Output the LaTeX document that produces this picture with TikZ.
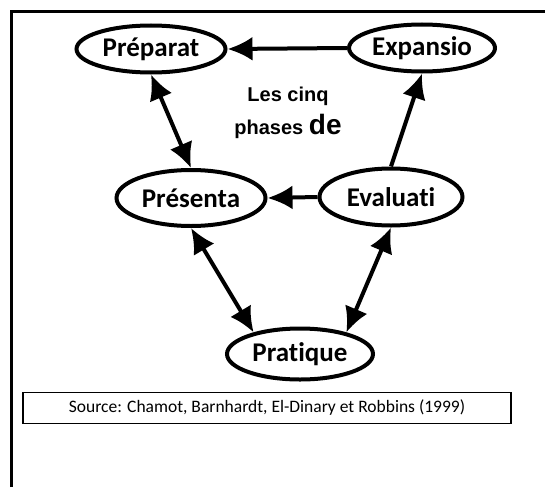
\documentclass[tikz,border=0pt]{standalone}
\usepackage{fontspec}
\setmainfont{Carlito}[Ligatures=NoCommon]
\newfontfamily\arialfont{Liberation Sans}
\usetikzlibrary{arrows.meta,shapes.geometric}
\tikzset{
  phase/.style={draw,ellipse,line width=4pt,inner sep=0pt,
    font=\fontsize{27}{30}\selectfont\bfseries},
  fleche/.style={line width=4pt,-{Latex[length=25pt,width=24pt]}},
  doublefleche/.style={line width=4pt,{Latex[length=25pt,width=24pt]}-{Latex[length=25pt,width=24pt]}}
}
\begin{document}
\begin{tikzpicture}[x=1pt,y=-1pt]
\useasboundingbox (0,0) rectangle (545,487);
% cadre
\draw [line width=3pt] (11,487) -- (11,12) -- (546,12);
% les cinq phases
\node [phase,minimum width=149pt,minimum height=47pt] (preparat) at (151,49) {Préparat};
\node [phase,minimum width=146pt,minimum height=47pt] (expansio) at (422,48) {Expansio};
\node [phase,minimum width=149pt,minimum height=56pt] (presenta) at (191,198) {Présenta};
\node [phase,minimum width=143pt,minimum height=57pt] (evaluati) at (391,197) {Evaluati};
\node [phase,minimum width=146pt,minimum height=51pt] (pratique) at (300,354) {Pratique};
\node [font=\arialfont\bfseries\fontsize{20}{33}\selectfont,align=center] (titre) at (288,113)
  {Les cinq\\phases {\fontsize{28}{33}\selectfont de}};
% fleches
\draw [fleche] (expansio.west) -- (preparat.east);
\draw [doublefleche] (preparat.south) -- (presenta.north);
\draw [fleche] (evaluati.north) -- (expansio.south);
\draw [fleche] (evaluati.west) -- (presenta.east);
\draw [doublefleche] (presenta.south) -- (pratique.155);
\draw [doublefleche] (evaluati.south) -- (pratique.25);
% source
\node [draw,line width=1.5pt,minimum width=488pt,minimum height=31pt,inner sep=0pt,
  font=\fontsize{17.5}{20}\selectfont] (source) at (267,408)
  {Source: Chamot, Barnhardt, El-Dinary et Robbins (1999)};
\end{tikzpicture}
\end{document}
